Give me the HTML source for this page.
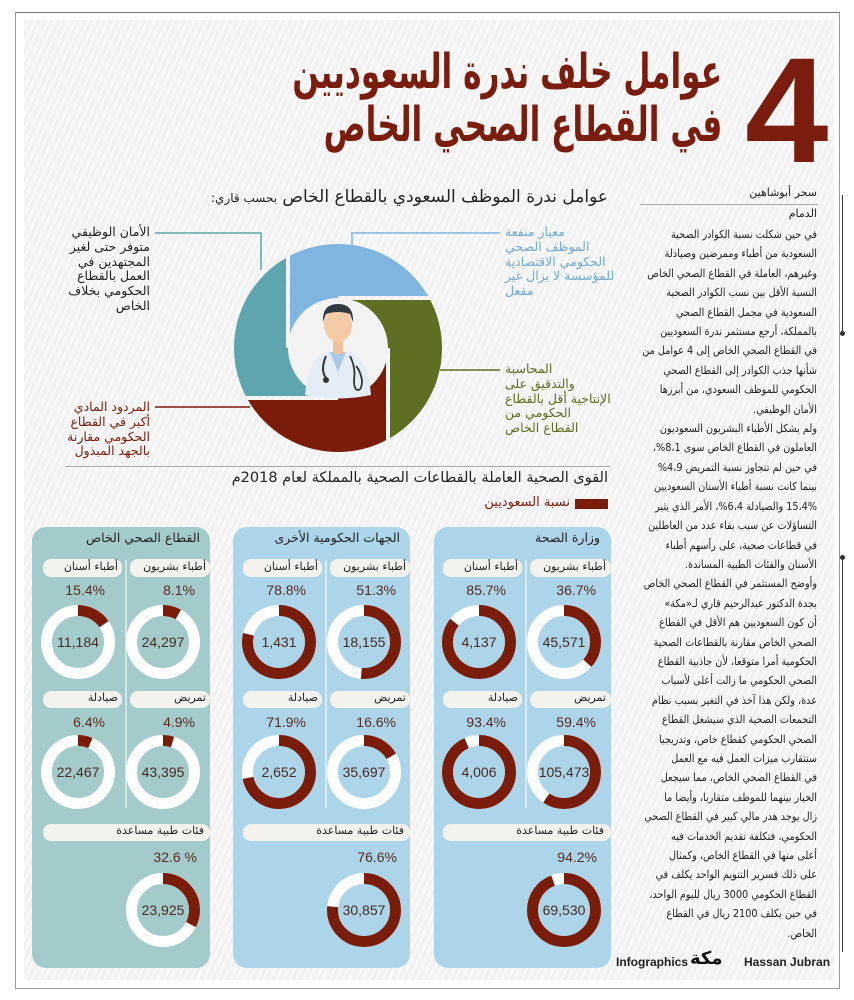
<!DOCTYPE html>
<html><head><meta charset="utf-8">
<style>
*{margin:0;padding:0;box-sizing:border-box}
body{width:854px;height:1000px;background:#fff;position:relative;overflow:hidden;font-family:"DejaVu Sans","Liberation Sans",sans-serif}
.frame{position:absolute;left:15px;top:12px;width:825px;height:977px;border:1px solid #9a9a9a;border-top-color:#777}
.bg{position:absolute;left:24px;top:20px;width:810px;height:960px;background:repeating-linear-gradient(115deg,#f1f1f1 0 3px,#f8f8f8 3px 6px)}
.a{position:absolute;direction:rtl;white-space:nowrap}
.col{position:absolute;right:37px;top:225px;width:180px;direction:rtl;text-align:right;font-size:11px;line-height:19.4px;color:#222}
.col div{white-space:nowrap;transform-origin:right center;transform:scaleX(.88)}
.t{transform-origin:right center;transform:scaleX(.65)}
</style></head><body>
<div class="frame"></div>
<div class="bg"></div>

<div style="position:absolute;left:745px;top:35px;font-family:'Liberation Sans',sans-serif;font-weight:bold;font-size:150px;line-height:150px;color:#7a1d0e">4</div>
<div class="a t" style="right:132px;top:44px;font-size:48px;font-weight:bold;color:#7a1d0e;line-height:56px">عوامل خلف ندرة السعوديين</div>
<div class="a t" style="right:132px;top:97px;font-size:48px;font-weight:bold;color:#7a1d0e;line-height:56px">في القطاع الصحي الخاص</div>

<div class="a" style="right:246px;top:187px;font-size:17px;color:#222">عوامل ندرة الموظف السعودي بالقطاع الخاص <span style="font-size:12px">بحسب قاري:</span></div>

<div class="a" style="right:37px;top:186px;font-size:11px;color:#222">سحر أبوشاهين</div>
<div style="position:absolute;left:640px;top:204px;width:178px;border-top:1px solid #aaa"></div>
<div class="a" style="right:37px;top:207px;font-size:11px;color:#222">الدمام</div>
<div style="position:absolute;left:842px;top:195px;width:1px;height:138px;background:#333"></div>
<div style="position:absolute;left:840px;top:331px;width:5px;height:5px;border-radius:50%;background:#333"></div>
<div style="position:absolute;left:842px;top:557px;width:1px;height:395px;background:#333"></div>
<div style="position:absolute;left:840px;top:555px;width:5px;height:5px;border-radius:50%;background:#333"></div>

<div class="col">
<div>في حين شكلت نسبة الكوادر الصحية</div>
<div>السعودية من أطباء وممرضين وصيادلة</div>
<div>وغيرهم، العاملة في القطاع الصحي الخاص</div>
<div>النسبة الأقل بين نسب الكوادر الصحية</div>
<div>السعودية في مجمل القطاع الصحي</div>
<div>بالمملكة، أرجع مستثمر ندرة السعوديين</div>
<div>في القطاع الصحي الخاص إلى 4 عوامل من</div>
<div>شأنها جذب الكوادر إلى القطاع الصحي</div>
<div>الحكومي للموظف السعودي، من أبرزها</div>
<div>الأمان الوظيفي.</div>
<div>ولم يشكل الأطباء البشريون السعوديون</div>
<div>العاملون في القطاع الخاص سوى 8،1%،</div>
<div>في حين لم تتجاوز نسبة التمريض 4،9%</div>
<div>بينما كانت نسبة أطباء الأسنان السعوديين</div>
<div>15،4% والصيادلة 6،4%، الأمر الذي يثير</div>
<div>التساؤلات عن سبب بقاء عدد من العاطلين</div>
<div>في قطاعات صحية، على رأسهم أطباء</div>
<div>الأسنان والفئات الطبية المساندة.</div>
<div>وأوضح المستثمر في القطاع الصحي الخاص</div>
<div>بجدة الدكتور عبدالرحيم قاري لـ«مكة»</div>
<div>أن كون السعوديين هم الأقل في القطاع</div>
<div>الصحي الخاص مقارنة بالقطاعات الصحية</div>
<div>الحكومية أمرا متوقعا، لأن جاذبية القطاع</div>
<div>الصحي الحكومي ما زالت أعلى لأسباب</div>
<div>عدة، ولكن هذا آخذ في التغير بسبب نظام</div>
<div>التجمعات الصحية الذي سيشغل القطاع</div>
<div>الصحي الحكومي كقطاع خاص، وتدريجيا</div>
<div>ستتقارب ميزات العمل فيه مع العمل</div>
<div>في القطاع الصحي الخاص، مما سيجعل</div>
<div>الخيار بينهما للموظف متقاربا، وأيضا ما</div>
<div>زال يوجد هدر مالي كبير في القطاع الصحي</div>
<div>الحكومي، فتكلفة تقديم الخدمات فيه</div>
<div>أعلى منها في القطاع الخاص، وكمثال</div>
<div>على ذلك فسرير التنويم الواحد يكلف في</div>
<div>القطاع الحكومي 3000 ريال لليوم الواحد،</div>
<div>في حين يكلف 2100 ريال في القطاع</div>
<div>الخاص.</div>
</div>

<div class="a" style="right:704px;top:225px;font-size:12.5px;line-height:14.8px;color:#222;text-align:right">الأمان الوظيفي<br>متوفر حتى لغير<br>المجتهدين في<br>العمل بالقطاع<br>الحكومي بخلاف<br>الخاص</div>
<div class="a" style="left:505px;top:225px;font-size:12.5px;line-height:14.8px;color:#6fa9d6;text-align:left">معيار منفعة<br>الموظف الصحي<br>الحكومي الاقتصادية<br>للمؤسسة لا يزال غير<br>مفعل</div>
<div class="a" style="left:505px;top:362px;font-size:12.5px;line-height:14.8px;color:#5e6e22;text-align:left">المحاسبة<br>والتدقيق على<br>الإنتاجية أقل بالقطاع<br>الحكومي من<br>القطاع الخاص</div>
<div class="a" style="right:704px;top:400px;font-size:12.5px;line-height:14.8px;color:#7a1c0a;text-align:right">المردود المادي<br>أكبر في القطاع<br>الحكومي مقارنة<br>بالجهد المبذول</div>

<div style="position:absolute;left:65px;top:466px;width:545px;border-top:1px solid #aaa"></div>
<div class="a" style="right:246px;top:470px;font-size:14.5px;color:#222">القوى الصحية العاملة بالقطاعات الصحية بالمملكة لعام 2018م</div>
<div style="position:absolute;left:575px;top:499px;width:33px;height:10px;background:#7a1c0a"></div>
<div class="a" style="right:284px;top:495px;font-size:13px;color:#7a1c0a">نسبة السعوديين</div>

<svg style="position:absolute;left:0;top:0" width="854" height="1000" xmlns="http://www.w3.org/2000/svg">
<defs><clipPath id="cc"><circle cx="338" cy="348" r="104"/></clipPath></defs>
<g stroke-width="1.5" fill="none">
<polyline points="155,233 261,233 261,270" stroke="#5ea6ad"/>
<polyline points="500,233 352,233 352,248" stroke="#7fb5df"/>
<polyline points="440,370 500,370" stroke="#5e6e22"/>
<polyline points="155,407 250,407" stroke="#7a1c0a"/>
</g>
<g clip-path="url(#cc)">
<polygon points="290,239 447,239 447,296 338,296 338,348 290,348" fill="#7fb5df"/>
<polygon points="338,300 447,300 447,457 390,457 390,348 338,348" fill="#5e6e22"/>
<polygon points="386,348 386,457 229,457 229,400 338,400 338,348" fill="#7a1c0a"/>
<polygon points="338,396 229,396 229,239 286,239 286,348 338,348" fill="#5ea6ad"/>
</g>
<circle cx="338" cy="348" r="50" fill="#f3f3f3"/>
<path d="M305,395 Q308,360 325,352 L351,352 Q368,360 371,395 Q338,402 305,395Z" fill="#e4ecf5"/>
<path d="M330,352 L338,372 L346,352Z" fill="#a9c9e8"/>
<rect x="333" y="340" width="10" height="14" fill="#f1c29c"/>
<ellipse cx="338" cy="325" rx="14" ry="17" fill="#f5caa6"/>
<path d="M323,322 Q322,304 338,304 Q354,304 353,322 L350,314 Q338,310 326,314Z" fill="#2f3a40"/>
<path d="M326,356 Q320,370 326,378" stroke="#333" stroke-width="2" fill="none"/>
<circle cx="326" cy="380" r="3" fill="#333"/>
<path d="M350,356 Q356,368 354,380 Q354,390 358,390 Q362,390 362,380 Q360,370 356,366" stroke="#333" stroke-width="1.8" fill="none"/>

<rect x="32" y="527" width="178" height="441" rx="14" fill="#a4cbcb"/>
<rect x="233" y="527" width="177" height="441" rx="14" fill="#acd5ea"/>
<rect x="434" y="527" width="177" height="441" rx="14" fill="#acd5ea"/>

<g fill="#f4f2ed">
<rect x="43" y="559" width="79" height="18" rx="8"/><rect x="130" y="559" width="80" height="18" rx="8"/>
<rect x="43" y="691" width="79" height="17" rx="8"/><rect x="130" y="691" width="80" height="17" rx="8"/>
<rect x="43" y="824" width="167" height="17" rx="8"/>
<rect x="243" y="559" width="79" height="18" rx="8"/><rect x="330" y="559" width="80" height="18" rx="8"/>
<rect x="243" y="691" width="79" height="17" rx="8"/><rect x="330" y="691" width="80" height="17" rx="8"/>
<rect x="243" y="824" width="167" height="17" rx="8"/>
<rect x="443" y="559" width="79" height="18" rx="8"/><rect x="530" y="559" width="81" height="18" rx="8"/>
<rect x="443" y="691" width="79" height="17" rx="8"/><rect x="530" y="691" width="81" height="17" rx="8"/>
<rect x="443" y="824" width="168" height="17" rx="8"/>
</g>
<g stroke="#fff" stroke-width="1">
<line x1="126" y1="560" x2="126" y2="808"/><line x1="326" y1="560" x2="326" y2="808"/><line x1="526" y1="560" x2="526" y2="808"/>
</g>

<g fill="none" stroke-width="11">
<g stroke="#fff">
<circle cx="564" cy="642" r="31.5"/><circle cx="479" cy="642" r="31.5"/><circle cx="564" cy="772" r="31.5"/><circle cx="479" cy="772" r="31.5"/><circle cx="564" cy="910" r="31.5"/>
<circle cx="364" cy="642" r="31.5"/><circle cx="279" cy="642" r="31.5"/><circle cx="364" cy="772" r="31.5"/><circle cx="279" cy="772" r="31.5"/><circle cx="364" cy="910" r="31.5"/>
<circle cx="163" cy="642" r="31.5"/><circle cx="78" cy="642" r="31.5"/><circle cx="163" cy="772" r="31.5"/><circle cx="78" cy="772" r="31.5"/><circle cx="163" cy="910" r="31.5"/>
</g>
<g stroke="#7a1c0a">
<circle cx="564" cy="642" r="31.5" stroke-dasharray="72.6 300" transform="rotate(-90 564 642)"/>
<circle cx="479" cy="642" r="31.5" stroke-dasharray="169.6 300" transform="rotate(-90 479 642)"/>
<circle cx="564" cy="772" r="31.5" stroke-dasharray="117.6 300" transform="rotate(-90 564 772)"/>
<circle cx="479" cy="772" r="31.5" stroke-dasharray="184.9 300" transform="rotate(-90 479 772)"/>
<circle cx="564" cy="910" r="31.5" stroke-dasharray="186.4 300" transform="rotate(-90 564 910)"/>
<circle cx="364" cy="642" r="31.5" stroke-dasharray="101.5 300" transform="rotate(-90 364 642)"/>
<circle cx="279" cy="642" r="31.5" stroke-dasharray="156 300" transform="rotate(-90 279 642)"/>
<circle cx="364" cy="772" r="31.5" stroke-dasharray="32.9 300" transform="rotate(-90 364 772)"/>
<circle cx="279" cy="772" r="31.5" stroke-dasharray="142.3 300" transform="rotate(-90 279 772)"/>
<circle cx="364" cy="910" r="31.5" stroke-dasharray="151.6 300" transform="rotate(-90 364 910)"/>
<circle cx="163" cy="642" r="31.5" stroke-dasharray="16 300" transform="rotate(-90 163 642)"/>
<circle cx="78" cy="642" r="31.5" stroke-dasharray="30.5 300" transform="rotate(-90 78 642)"/>
<circle cx="163" cy="772" r="31.5" stroke-dasharray="9.7 300" transform="rotate(-90 163 772)"/>
<circle cx="78" cy="772" r="31.5" stroke-dasharray="12.7 300" transform="rotate(-90 78 772)"/>
<circle cx="163" cy="910" r="31.5" stroke-dasharray="64.5 300" transform="rotate(-90 163 910)"/>
</g>
</g>

<g font-family="Liberation Sans, sans-serif" font-size="14" fill="#4a2a22" text-anchor="middle">
<text x="564" y="647">45,571</text><text x="479" y="647">4,137</text><text x="564" y="777">105,473</text><text x="479" y="777">4,006</text><text x="564" y="915">69,530</text>
<text x="364" y="647">18,155</text><text x="279" y="647">1,431</text><text x="364" y="777">35,697</text><text x="279" y="777">2,652</text><text x="364" y="915">30,857</text>
<text x="163" y="647">24,297</text><text x="78" y="647">11,184</text><text x="163" y="777">43,395</text><text x="78" y="777">22,467</text><text x="163" y="915">23,925</text>
</g>
<g font-family="Liberation Sans, sans-serif" font-size="14" fill="#5a2a20" text-anchor="end">
<text x="596" y="595">36.7%</text><text x="506" y="595">85.7%</text><text x="596" y="727">59.4%</text><text x="506" y="727">93.4%</text><text x="597" y="862">94.2%</text>
<text x="396" y="595">51.3%</text><text x="306" y="595">78.8%</text><text x="396" y="727">16.6%</text><text x="306" y="727">71.9%</text><text x="397" y="862">76.6%</text>
<text x="195" y="595">8.1%</text><text x="105" y="595">15.4%</text><text x="195" y="727">4.9%</text><text x="105" y="727">6.4%</text><text x="197" y="862">32.6 %</text>
</g>
<text x="616" y="966" font-family="Liberation Sans, sans-serif" font-weight="bold" font-size="12" fill="#222">Infographics</text>
<text x="744" y="966" font-family="Liberation Sans, sans-serif" font-weight="bold" font-size="12" fill="#222">Hassan Jubran</text>
</svg>

<div class="a" style="right:254px;top:530px;font-size:12.5px;color:#222">وزارة الصحة</div>
<div class="a" style="right:454px;top:530px;font-size:12.5px;color:#222">الجهات الحكومية الأخرى</div>
<div class="a" style="right:654px;top:530px;font-size:12.5px;color:#222">القطاع الصحي الخاص</div>

<div class="a" style="right:248px;top:560px;font-size:11px;color:#222">أطباء بشريون</div>
<div class="a" style="right:336px;top:560px;font-size:11px;color:#222">أطباء أسنان</div>
<div class="a" style="right:248px;top:691px;font-size:11px;color:#222">تمريض</div>
<div class="a" style="right:336px;top:691px;font-size:11px;color:#222">صيادلة</div>
<div class="a" style="right:250px;top:824px;font-size:11px;color:#222">فئات طبية مساعدة</div>

<div class="a" style="right:448px;top:560px;font-size:11px;color:#222">أطباء بشريون</div>
<div class="a" style="right:536px;top:560px;font-size:11px;color:#222">أطباء أسنان</div>
<div class="a" style="right:448px;top:691px;font-size:11px;color:#222">تمريض</div>
<div class="a" style="right:536px;top:691px;font-size:11px;color:#222">صيادلة</div>
<div class="a" style="right:450px;top:824px;font-size:11px;color:#222">فئات طبية مساعدة</div>

<div class="a" style="right:648px;top:560px;font-size:11px;color:#222">أطباء بشريون</div>
<div class="a" style="right:736px;top:560px;font-size:11px;color:#222">أطباء أسنان</div>
<div class="a" style="right:648px;top:691px;font-size:11px;color:#222">تمريض</div>
<div class="a" style="right:736px;top:691px;font-size:11px;color:#222">صيادلة</div>
<div class="a" style="right:650px;top:824px;font-size:11px;color:#222">فئات طبية مساعدة</div>

<div class="a" style="left:690px;top:948px;font-size:18px;font-weight:bold;color:#111">مكة</div>
</body></html>
